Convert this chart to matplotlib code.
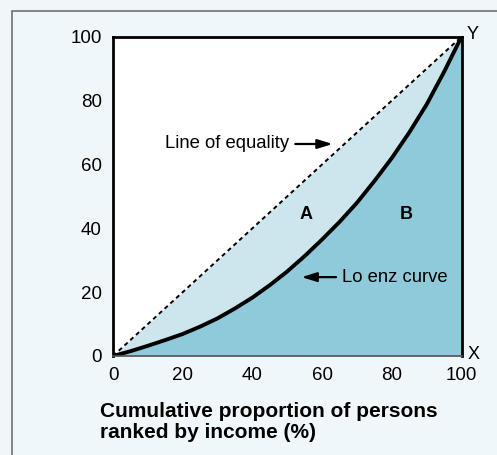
import matplotlib.pyplot as plt
import numpy as np
from matplotlib.patches import Rectangle

# cumulative share of persons (%) and of income (%)
persons = [0, 5, 10, 15, 20, 25, 30, 35, 40, 45, 50, 55, 60, 65, 70, 75, 80, 85, 90, 95, 100]
income = [0, 1.5, 3.2, 5.0, 6.9, 9.2, 11.8, 14.9, 18.3, 22.2, 26.5, 31.3, 36.5, 42.0, 48.0,
          54.8, 62.0, 70.0, 78.8, 89.0, 100]
ticks = [0, 20, 40, 60, 80, 100]

plt.rcParams['font.family'] = ['Liberation Sans', 'DejaVu Sans']

bg = '#f0f7fa'
fig = plt.figure(figsize=(4.97, 4.55), dpi=100)
fig.patch.set_facecolor(bg)
fig.patches.append(Rectangle((12 / 497, -0.1), 1.2, (455 - 11) / 455 + 0.1,
                             transform=fig.transFigure, fill=False,
                             edgecolor='#707070', linewidth=1.2))

ax = fig.add_axes([0.2274, 0.2176, 0.7012, 0.7017])
ax.set_facecolor('white')

x = np.array(persons)
y = np.array(income)
ax.fill_between(x, y, x, color='#cde6ee', linewidth=0)
ax.fill_between(x, 0, y, color='#8ecad9', linewidth=0)
ax.plot([0, 100], [0, 100], color='black', linewidth=1.4, linestyle=(0, (2.2, 1.8)))
ax.plot(x, y, color='black', linewidth=2.8, solid_capstyle='round', solid_joinstyle='round')

ax.set_xlim(0, 100)
ax.set_ylim(0, 100)
ax.set_xticks(ticks)
ax.set_yticks(ticks)
ax.tick_params(length=0, labelsize=13.5, pad=8)
for s in ['left', 'top', 'right']:
    ax.spines[s].set_linewidth(2)
    ax.spines[s].set_color('black')
ax.spines['bottom'].set_linewidth(1.2)
ax.spines['bottom'].set_color('#555555')

ax.text(101.4, 100.8, 'Y', fontsize=13, ha='left', va='center')
ax.text(101.8, 0.5, 'X', fontsize=13, ha='left', va='center')

ax.text(14.9, 66.4, 'Line of equality', fontsize=13.3, ha='left', va='center')
ax.annotate('', xy=(63.8, 66.4), xytext=(51.5, 66.4),
            arrowprops=dict(arrowstyle='-|>,head_length=0.9,head_width=0.28',
                            color='black', lw=1.6))
ax.text(55.5, 44.2, 'A', fontsize=13, fontweight='bold', ha='center', va='center')
ax.text(84.2, 44.2, 'B', fontsize=13, fontweight='bold', ha='center', va='center')
ax.text(65.8, 24.5, 'Lo enz curve', fontsize=13.3, ha='left', va='center')
ax.annotate('', xy=(53.3, 24.7), xytext=(64.8, 24.7),
            arrowprops=dict(arrowstyle='-|>,head_length=0.9,head_width=0.28',
                            color='black', lw=1.6))

fig.text(100 / 497, 1 - 402 / 455, 'Cumulative proportion of persons\nranked by income (%)',
         fontsize=15, fontweight='bold', ha='left', va='top', linespacing=1.15)

fig.savefig('out.png', dpi=100, facecolor=bg)
